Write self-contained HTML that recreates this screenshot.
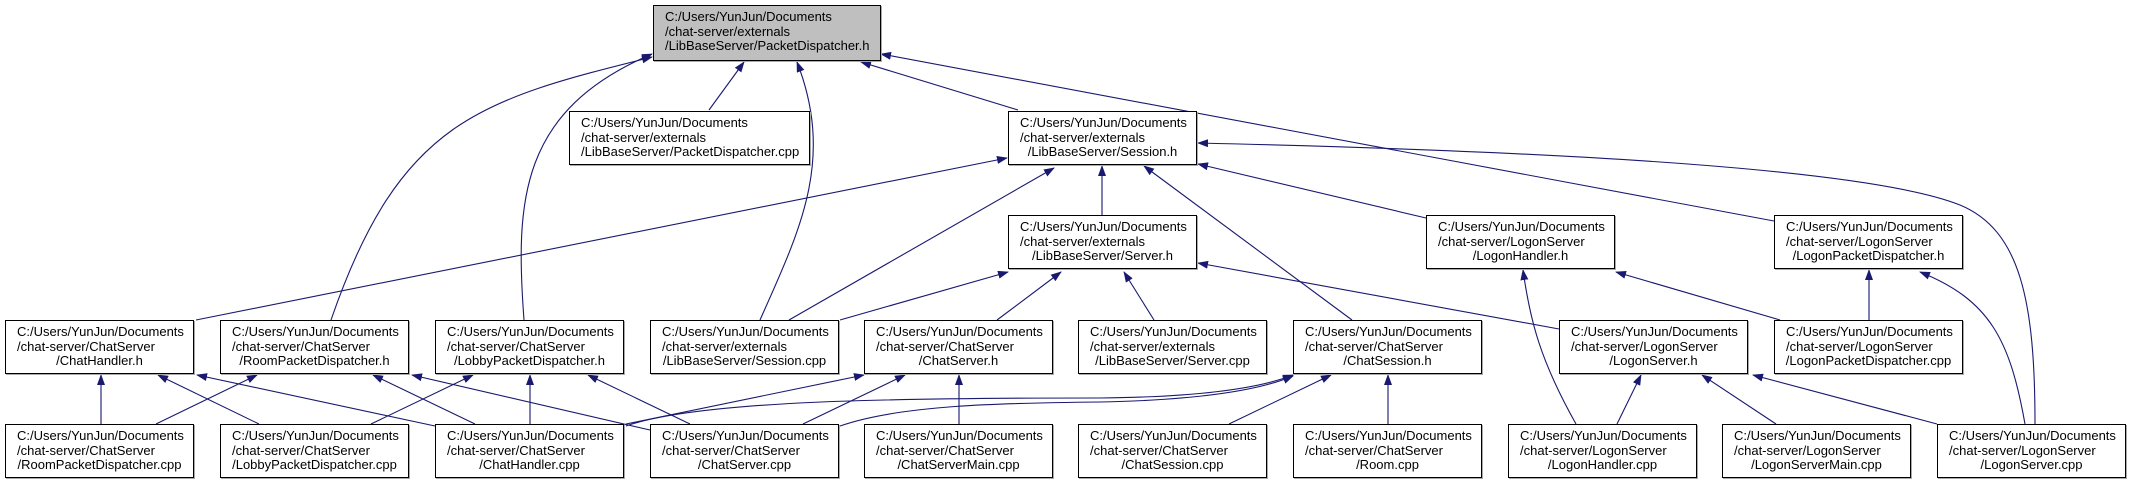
<!DOCTYPE html>
<html><head><meta charset="utf-8"><style>
body{margin:0;width:2133px;height:483px;background:#fff;position:relative;overflow:hidden;font-family:"Liberation Sans",Arial,sans-serif;}
.b{position:absolute;width:189px;height:54px;border:1px solid #000;background:#fff;font-size:13px;line-height:14.6px;box-sizing:border-box;padding:4px 0 0 11px;white-space:nowrap;color:#000;box-shadow:1px 1px 0 #aaa;}
.b div:last-child{text-align:center;margin-left:-11px;}
svg{position:absolute;left:0;top:0;}
</style></head><body>
<svg width="2133" height="483" viewBox="0 0 2133 483">
<defs><marker id="a" markerWidth="11" markerHeight="8" refX="10" refY="4" orient="auto" markerUnits="userSpaceOnUse"><path d="M0,0 L11,4 L0,8 z" fill="#191970"/></marker></defs>
<g stroke="#191970" stroke-width="1.1" fill="none" marker-end="url(#a)">
<path d="M709,110 L744,62"/>
<path d="M1018,110 L861,62"/>
<path d="M1774,221 L881,54"/>
<path d="M760,320 C800,230 835,160 797,62"/>
<path d="M331,320 C400,120 480,100 652,57"/>
<path d="M524,320 C515,200 520,110 652,54"/>
<path d="M196,320 L1007,158"/>
<path d="M789,320 L1054,168"/>
<path d="M1102,215 L1102,166"/>
<path d="M1352,320 L1144,166"/>
<path d="M1426,218 L1198,164"/>
<path d="M2035,424 C2035,300 2020,230 1960,205 C1860,165 1500,150 1198,143"/>
<path d="M840,320 L1008,272"/>
<path d="M997,320 L1061,272"/>
<path d="M1154,320 L1124,272"/>
<path d="M1559,329 L1198,263"/>
<path d="M1780,320 L1616,272"/>
<path d="M1869,320 L1869,270"/>
<path d="M2025,424 C2010,340 1990,300 1920,272"/>
<path d="M1576,424 C1540,360 1530,320 1523,270"/>
<path d="M101,424 L101,375"/>
<path d="M156,424 L257,375"/>
<path d="M259,424 L158,375"/>
<path d="M435,426 L197,375"/>
<path d="M475,424 L373,375"/>
<path d="M650,430 L412,375"/>
<path d="M371,424 L473,375"/>
<path d="M530,424 L530,375"/>
<path d="M690,424 L588,375"/>
<path d="M626,424 L864,375"/>
<path d="M803,424 L905,375"/>
<path d="M959,424 L959,375"/>
<path d="M626,426 C700,400 900,398 1100,398 C1200,397 1260,388 1293,375"/>
<path d="M840,426 C900,405 1000,403 1100,402 C1200,400 1260,390 1293,376"/>
<path d="M1229,424 L1331,375"/>
<path d="M1388,424 L1388,375"/>
<path d="M1617,424 L1641,375"/>
<path d="M1776,424 L1702,375"/>
<path d="M1937,424 L1753,375"/>
</g>
</svg>
<div class="b" style="left:653px;top:5px;width:228px;height:56px;background:#bfbfbf"><div>C:/Users/YunJun/Documents</div><div>/chat-server/externals</div><div style="text-align:left;margin-left:0">/LibBaseServer/PacketDispatcher.h</div></div>
<div class="b" style="left:569px;top:111px;width:241px"><div>C:/Users/YunJun/Documents</div><div>/chat-server/externals</div><div style="text-align:left;margin-left:0">/LibBaseServer/PacketDispatcher.cpp</div></div>
<div class="b" style="left:1008px;top:111px"><div>C:/Users/YunJun/Documents</div><div>/chat-server/externals</div><div>/LibBaseServer/Session.h</div></div>
<div class="b" style="left:1008px;top:215px"><div>C:/Users/YunJun/Documents</div><div>/chat-server/externals</div><div>/LibBaseServer/Server.h</div></div>
<div class="b" style="left:1426px;top:215px"><div>C:/Users/YunJun/Documents</div><div>/chat-server/LogonServer</div><div>/LogonHandler.h</div></div>
<div class="b" style="left:1774px;top:215px"><div>C:/Users/YunJun/Documents</div><div>/chat-server/LogonServer</div><div>/LogonPacketDispatcher.h</div></div>

<div class="b" style="left:5px;top:320px"><div>C:/Users/YunJun/Documents</div><div>/chat-server/ChatServer</div><div>/ChatHandler.h</div></div>
<div class="b" style="left:220px;top:320px"><div>C:/Users/YunJun/Documents</div><div>/chat-server/ChatServer</div><div>/RoomPacketDispatcher.h</div></div>
<div class="b" style="left:435px;top:320px"><div>C:/Users/YunJun/Documents</div><div>/chat-server/ChatServer</div><div>/LobbyPacketDispatcher.h</div></div>
<div class="b" style="left:650px;top:320px"><div>C:/Users/YunJun/Documents</div><div>/chat-server/externals</div><div>/LibBaseServer/Session.cpp</div></div>
<div class="b" style="left:864px;top:320px"><div>C:/Users/YunJun/Documents</div><div>/chat-server/ChatServer</div><div>/ChatServer.h</div></div>
<div class="b" style="left:1078px;top:320px"><div>C:/Users/YunJun/Documents</div><div>/chat-server/externals</div><div>/LibBaseServer/Server.cpp</div></div>
<div class="b" style="left:1293px;top:320px"><div>C:/Users/YunJun/Documents</div><div>/chat-server/ChatServer</div><div>/ChatSession.h</div></div>
<div class="b" style="left:1559px;top:320px"><div>C:/Users/YunJun/Documents</div><div>/chat-server/LogonServer</div><div>/LogonServer.h</div></div>
<div class="b" style="left:1774px;top:320px"><div>C:/Users/YunJun/Documents</div><div>/chat-server/LogonServer</div><div>/LogonPacketDispatcher.cpp</div></div>

<div class="b" style="left:5px;top:424px"><div>C:/Users/YunJun/Documents</div><div>/chat-server/ChatServer</div><div>/RoomPacketDispatcher.cpp</div></div>
<div class="b" style="left:220px;top:424px"><div>C:/Users/YunJun/Documents</div><div>/chat-server/ChatServer</div><div>/LobbyPacketDispatcher.cpp</div></div>
<div class="b" style="left:435px;top:424px"><div>C:/Users/YunJun/Documents</div><div>/chat-server/ChatServer</div><div>/ChatHandler.cpp</div></div>
<div class="b" style="left:650px;top:424px"><div>C:/Users/YunJun/Documents</div><div>/chat-server/ChatServer</div><div>/ChatServer.cpp</div></div>
<div class="b" style="left:864px;top:424px"><div>C:/Users/YunJun/Documents</div><div>/chat-server/ChatServer</div><div>/ChatServerMain.cpp</div></div>
<div class="b" style="left:1078px;top:424px"><div>C:/Users/YunJun/Documents</div><div>/chat-server/ChatServer</div><div>/ChatSession.cpp</div></div>
<div class="b" style="left:1293px;top:424px"><div>C:/Users/YunJun/Documents</div><div>/chat-server/ChatServer</div><div>/Room.cpp</div></div>
<div class="b" style="left:1508px;top:424px"><div>C:/Users/YunJun/Documents</div><div>/chat-server/LogonServer</div><div>/LogonHandler.cpp</div></div>
<div class="b" style="left:1722px;top:424px"><div>C:/Users/YunJun/Documents</div><div>/chat-server/LogonServer</div><div>/LogonServerMain.cpp</div></div>
<div class="b" style="left:1937px;top:424px"><div>C:/Users/YunJun/Documents</div><div>/chat-server/LogonServer</div><div>/LogonServer.cpp</div></div>
</body></html>
